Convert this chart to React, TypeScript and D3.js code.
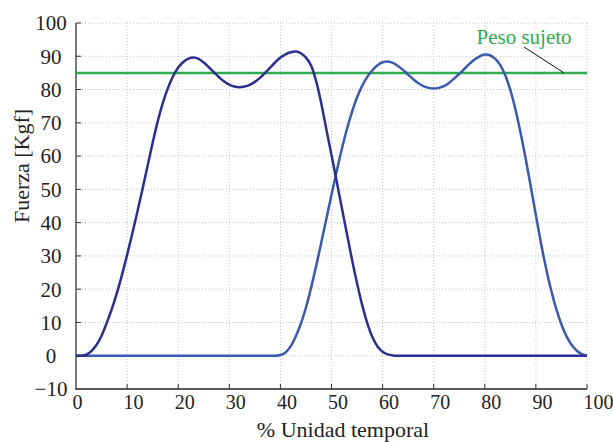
import React from "react";
import * as d3 from "d3";

// % unidad temporal (0..100, paso 1)
const tiempo = d3.range(0, 101);

// primer apoyo (azul oscuro)
const fuerzaA = [
  0, 0, 0.3, 1.4, 3.2, 6, 9.8, 14, 18.8, 24.3,
  30.3, 36.6, 43.2, 50, 57, 64, 70.5, 76, 80.5, 84,
  86.6, 88.3, 89.3, 89.6, 89.2, 88.1, 86.7, 85.2, 83.7, 82.4,
  81.5, 80.9, 80.7, 80.9, 81.4, 82.3, 83.5, 85, 86.6, 88.2,
  89.6, 90.6, 91.2, 91.4, 90.9, 89.6, 87.2, 82.5, 75.8, 68,
  60.3, 52.5, 44.6, 36.8, 29, 21.8, 15.3, 9.8, 5.6, 2.8,
  1.2, 0.4, 0.1, 0, 0, 0, 0, 0, 0, 0,
  0, 0, 0, 0, 0, 0, 0, 0, 0, 0,
  0, 0, 0, 0, 0, 0, 0, 0, 0, 0,
  0, 0, 0, 0, 0, 0, 0, 0, 0, 0,
  0,
];

// segundo apoyo (azul claro)
const fuerzaB = [
  0, 0, 0, 0, 0, 0, 0, 0, 0, 0,
  0, 0, 0, 0, 0, 0, 0, 0, 0, 0,
  0, 0, 0, 0, 0, 0, 0, 0, 0, 0,
  0, 0, 0, 0, 0, 0, 0, 0, 0, 0,
  0.2, 1, 2.8, 5.8, 9.6, 14.5, 20.4, 27, 34, 41.2,
  48.4, 55.4, 62, 68, 73.2, 77.6, 81.1, 83.8, 85.8, 87.3,
  88.2, 88.4, 88, 87.1, 85.9, 84.5, 83.1, 81.9, 81, 80.5,
  80.3, 80.5, 81, 82, 83.3, 84.7, 86.2, 87.7, 89, 90,
  90.5, 90.3, 89.3, 87.4, 84.3, 79.8, 74, 67, 59.2, 50.8,
  42.2, 33.8, 26.2, 19.6, 14, 9.4, 5.8, 3.2, 1.5, 0.5,
  0,
];

const pesoSujeto = 85;

const xTicks = [0, 10, 20, 30, 40, 50, 60, 70, 80, 90, 100];
const yTicks = [-10, 0, 10, 20, 30, 40, 50, 60, 70, 80, 90, 100];

const W = 613, H = 442;
const serif = "Liberation Serif, Times New Roman, serif";

export default function App() {
  const x = d3.scaleLinear().domain([0, 100]).range([76, 587]);
  const y = d3.scaleLinear().domain([-10, 100]).range([389, 23]);

  const line = d3
    .line<number>()
    .x((_, i) => x(tiempo[i]))
    .y((d) => y(d))
    .curve(d3.curveCatmullRom);

  return (
    <svg width={W} height={H} style={{ position: "absolute", left: 0, top: 0, background: "#fff" }}>
      {/* rejilla */}
      <g stroke="#c4c4c4" strokeWidth={1} strokeDasharray="1,2">
        {xTicks.slice(1).map((t) => (
          <line key={"gx" + t} x1={x(t)} x2={x(t)} y1={y(100)} y2={y(-10)} />
        ))}
        {yTicks.slice(1).map((t) => (
          <line key={"gy" + t} x1={x(0)} x2={x(100)} y1={y(t)} y2={y(t)} />
        ))}
      </g>

      {/* ejes */}
      <line x1={x(0)} x2={x(0)} y1={y(100)} y2={y(-10) + 1} stroke="#7a7a7a" strokeWidth={2} />
      <line x1={x(0) - 1} x2={x(100)} y1={y(-10)} y2={y(-10)} stroke="#5a5a5a" strokeWidth={2} />
      <g stroke="#333" strokeWidth={1}>
        {yTicks.slice(1).map((t) => (
          <line key={"ty" + t} x1={x(0)} x2={x(0) + 5} y1={y(t)} y2={y(t)} />
        ))}
        {xTicks.slice(1).map((t) => (
          <line key={"tx" + t} x1={x(t)} x2={x(t)} y1={y(-10)} y2={y(-10) - 5} />
        ))}
      </g>

      {/* etiquetas */}
      <g fontFamily={serif} fontSize={21} fill="#222">
        {yTicks.map((t) => (
          <text key={"ly" + t} x={51} y={y(t)} dy="0.35em" textAnchor="middle">
            {t < 0 ? "\u2212" + Math.abs(t) : t}
          </text>
        ))}
        {xTicks.map((t) => (
          <text key={"lx" + t} x={x(t) - 3.5} y={409} fontSize={20} textAnchor="start">
            {t}
          </text>
        ))}
        <text x={343} y={437} fontSize={22} textAnchor="middle">
          % Unidad temporal
        </text>
        <text transform="translate(29,166) rotate(-90)" fontSize={22} textAnchor="middle">
          Fuerza [Kgf]
        </text>
      </g>

      {/* peso del sujeto */}
      <line x1={x(0)} x2={x(100)} y1={y(pesoSujeto)} y2={y(pesoSujeto)} stroke="#2fac4f" strokeWidth={2.5} />

      {/* curvas */}
      <path d={line(fuerzaB) ?? ""} fill="none" stroke="#3a5aad" strokeWidth={2.5} />
      <path d={line(fuerzaA) ?? ""} fill="none" stroke="#2c2f8e" strokeWidth={2.5} />

      {/* anotación */}
      <line x1={524} y1={47} x2={x(95.5)} y2={y(pesoSujeto)} stroke="#111" strokeWidth={1} />
      <text x={524} y={44} fontFamily={serif} fontSize={21} fill="#2fac4f" textAnchor="middle">
        Peso sujeto
      </text>
    </svg>
  );
}
